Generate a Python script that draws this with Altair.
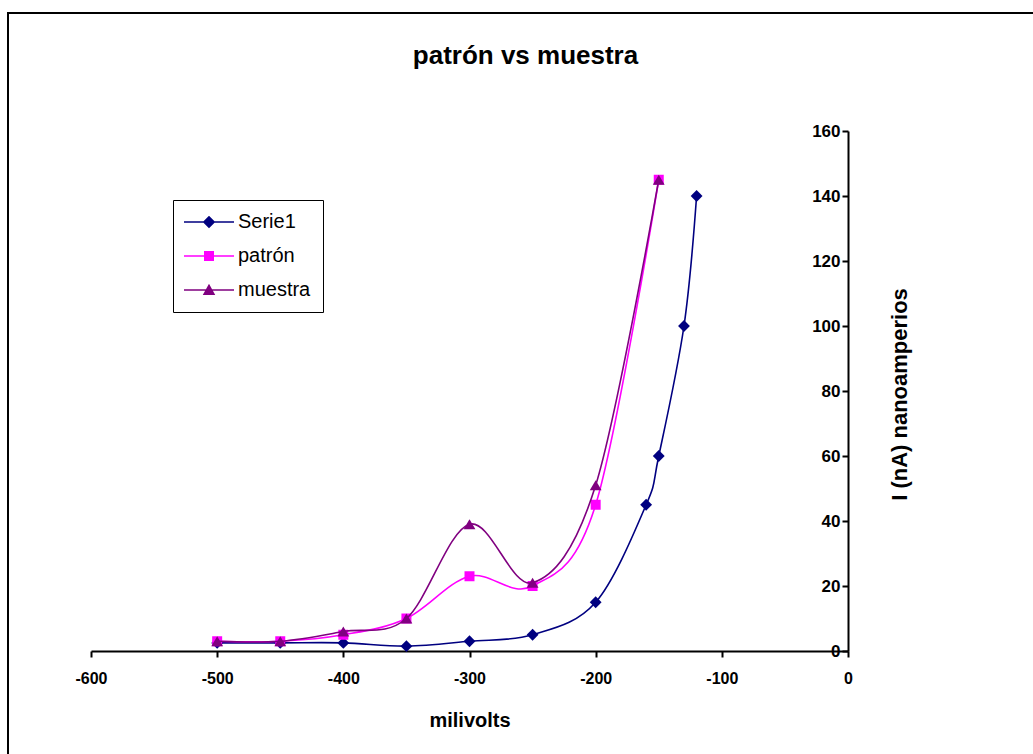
import altair as alt
import pandas as pd

# ---- data ----
series_names = ["Serie1", "patrón", "muestra"]
series_colors = ["#000080", "#FF00FF", "#800080"]

x_serie1 = [-500, -450, -400, -350, -300, -250, -200, -160, -150, -130, -120]
y_serie1 = [2.5, 2.5, 2.5, 1.5, 3, 5, 15, 45, 60, 100, 140]

x_patron = [-500, -450, -400, -350, -300, -250, -200, -150]
y_patron = [3, 3, 5, 10, 23, 20, 45, 145]

x_muestra = [-500, -450, -400, -350, -300, -250, -200, -150]
y_muestra = [3, 3, 6, 10, 39, 21, 51, 145]

x_ticks = [-600, -500, -400, -300, -200, -100, 0]
y_ticks = [0, 20, 40, 60, 80, 100, 120, 140, 160]

FONT = "Liberation Sans"
W, H = 757, 520

rows = []
for name, xs, ys in [("Serie1", x_serie1, y_serie1),
                     ("patrón", x_patron, y_patron),
                     ("muestra", x_muestra, y_muestra)]:
    for i, (a, b) in enumerate(zip(xs, ys)):
        rows.append({"series": name, "mv": a, "nA": b, "order": i})
df = pd.DataFrame(rows)

x_enc = alt.X("mv:Q",
              scale=alt.Scale(domain=[-600, 0], nice=False, zero=False),
              axis=alt.Axis(values=x_ticks, title="milivolts", orient="bottom",
                            labelExpr="'' + datum.value",
                            labelFontSize=16, labelFontWeight="bold", labelFont=FONT,
                            labelColor="black", labelPadding=13, tickSize=6,
                            tickColor="black", tickWidth=2, domainColor="black",
                            domainWidth=2, grid=False, labelOverlap=False,
                            labelFlush=False, titleFontSize=20, titleFont=FONT,
                            titleFontWeight="bold", titleColor="black",
                            titleY=69, titleBaseline="middle"))
y_enc = alt.Y("nA:Q",
              scale=alt.Scale(domain=[0, 160], nice=False),
              axis=alt.Axis(values=y_ticks, title="I (nA) nanoamperios", orient="left",
                            offset=-W, labelFontSize=17, labelFontWeight="bold",
                            labelFont=FONT, labelColor="black", labelPadding=2,
                            tickSize=6, tickColor="black", tickWidth=2,
                            domainColor="black", domainWidth=2, grid=False,
                            labelOverlap=False, labelFlush=False,
                            titleFontSize=22, titleFont=FONT, titleFontWeight="bold",
                            titleColor="black", titleAngle=270, titleX=51, titleY=263,
                            titleAlign="center", titleBaseline="middle"))

base = alt.Chart(df)
shapes = {"Serie1": ("diamond", 140), "patrón": ("square", 100), "muestra": ("triangle-up", 140)}

layers = []
for name, col in zip(series_names, series_colors):
    sub = base.transform_filter(alt.datum.series == name)
    line = sub.mark_line(interpolate="cardinal", tension=0, strokeWidth=1.6,
                         color=col).encode(x=x_enc, y=y_enc, order="order:Q")
    shp, sz = shapes[name]
    pts = sub.mark_point(filled=True, shape=shp, size=sz, opacity=1,
                         color=col).encode(x=x_enc, y=y_enc)
    layers += [line, pts]

# legend-only layer (nothing drawn) with line+marker symbols
legend_paths = [
    "M-5,-0.17H5V0.17H-5Z M0,-1.25L1.25,0L0,1.25L-1.25,0Z",
    "M-5,-0.17H5V0.17H-5Z M-1,-1H1V1H-1Z",
    "M-5,-0.17H5V0.17H-5Z M0,-1.25L1.25,1L-1.25,1Z",
]
leg = alt.Legend(title=None, orient="none", legendX=82, legendY=69,
                 padding=12, symbolOffset=14, labelOffset=19,
                 rowPadding=14, labelFontSize=20, labelFont=FONT,
                 labelColor="black", strokeColor="black",
                 fillColor="white", symbolStrokeWidth=0, cornerRadius=0)
legend_layer = base.transform_filter("false").mark_point(filled=True, size=100, opacity=1).encode(
    color=alt.Color("series:N", scale=alt.Scale(domain=series_names, range=series_colors),
                    legend=leg),
    shape=alt.Shape("series:N", scale=alt.Scale(domain=series_names, range=legend_paths),
                    legend=leg),
)

frame = alt.Chart(pd.DataFrame({"k": [0]})).mark_rect(
    fillOpacity=0, stroke="black", strokeWidth=2).encode(
    x=alt.value(8 - 91), x2=alt.value(1200), y=alt.value(13 - 131), y2=alt.value(900))

chart = alt.layer(frame, *layers, legend_layer).properties(
    width=W, height=H,
    title=alt.TitleParams(text="patrón vs muestra", fontSize=26, fontWeight="bold",
                          font=FONT, color="black", anchor="middle", dx=56,
                          offset=-78, baseline="alphabetic"),
    autosize=alt.AutoSizeParams(type="none"),
    padding={"left": 91, "top": 131, "right": 185, "bottom": 103},
).configure(
    background="white",
    view=alt.ViewConfig(strokeWidth=0, stroke="transparent"),
)

chart.save("out.html", embed_options={"renderer": "svg", "actions": False})
